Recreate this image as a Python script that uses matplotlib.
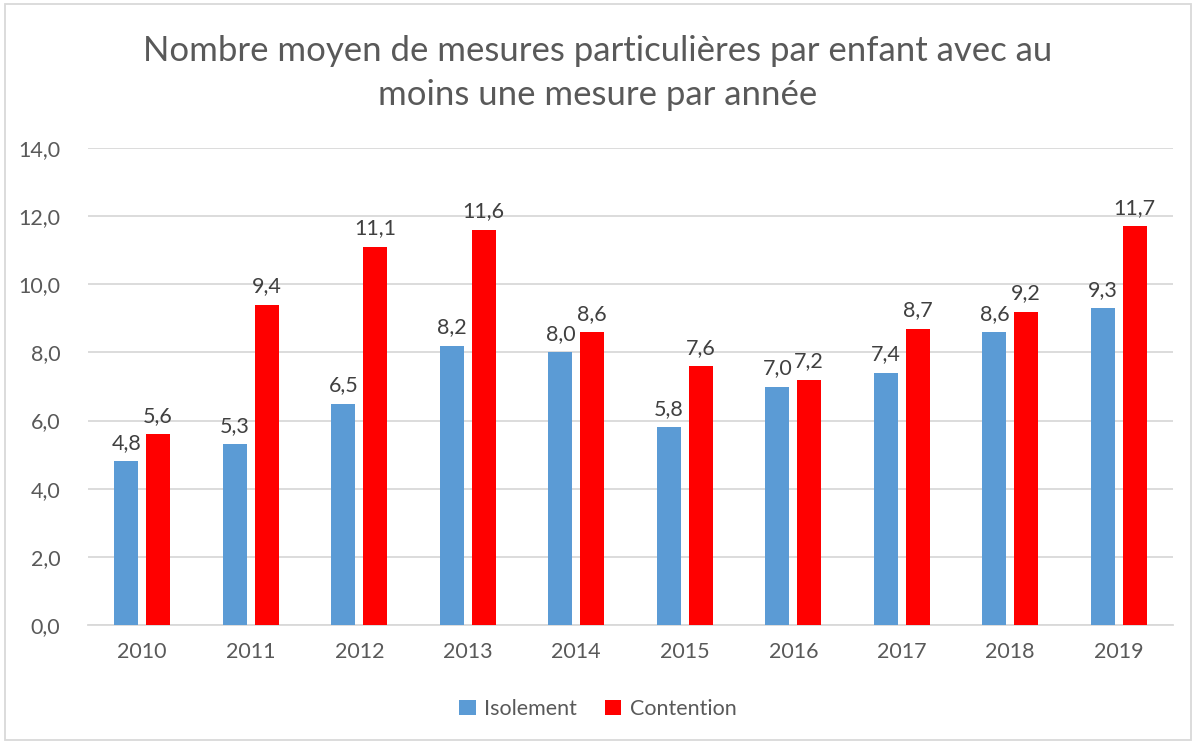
import matplotlib
matplotlib.use("Agg")
import matplotlib.pyplot as plt
from matplotlib.patches import Rectangle
import numpy as np

years = ["2010", "2011", "2012", "2013", "2014", "2015", "2016", "2017", "2018", "2019"]
isolement = [4.8, 5.3, 6.5, 8.2, 8.0, 5.8, 7.0, 7.4, 8.6, 9.3]
contention = [5.6, 9.4, 11.1, 11.6, 8.6, 7.6, 7.2, 8.7, 9.2, 11.7]

plt.rcParams["font.family"] = ["Lato", "DejaVu Sans"]
grey = "#595959"

fig = plt.figure(figsize=(11.96, 7.44), dpi=100)
ax = fig.add_axes([88 / 1196, 1 - 625 / 744, (1173 - 88) / 1196, (625 - 148) / 744])

x = np.arange(len(years))
w = 0.22
off = 0.146
b1 = ax.bar(x - off, isolement, w, color="#5b9bd5", label="Isolement", zorder=3)
b2 = ax.bar(x + off, contention, w, color="#ff0000", label="Contention", zorder=3)

def fmt(v):
    return f"{v:.1f}".replace(".", ",")

for bars, vals in ((b1, isolement), (b2, contention)):
    for r, v in zip(bars, vals):
        ax.annotate(fmt(v), (r.get_x() + r.get_width() / 2, v), xytext=(0, 6),
                    textcoords="offset points", ha="center", va="bottom",
                    fontsize=15.5, color="#404040")

ax.set_xlim(-0.5, 9.5)
ax.set_ylim(0, 14)
ax.set_yticks(np.arange(0, 14.1, 2))
ax.set_yticklabels([fmt(v) for v in np.arange(0, 14.1, 2)])
ax.set_xticks(x)
ax.set_xticklabels(years)
ax.tick_params(axis="both", length=0, labelsize=15.5, labelcolor=grey)
ax.tick_params(axis="x", pad=12)
ax.tick_params(axis="y", pad=20)
ax.grid(axis="y", color="#d9d9d9", linewidth=1.3, zorder=0)
for s in ("top", "right", "left"):
    ax.spines[s].set_visible(False)
ax.spines["bottom"].set_color("#d9d9d9")
ax.spines["bottom"].set_linewidth(1.3)

fig.text(0.5, 1 - 73 / 744, "Nombre moyen de mesures particulières par enfant avec au\nmoins une mesure par année",
         ha="center", va="center", fontsize=25, color=grey, linespacing=1.45)

fig.legend(handles=[b1, b2], loc="center", bbox_to_anchor=(0.5, 1 - 709 / 744), ncol=2,
           frameon=False, fontsize=15.5, labelcolor=grey, handlelength=0.75, handleheight=0.75,
           columnspacing=1.3, handletextpad=0.4)

fig.add_artist(Rectangle((5 / 1196, 4 / 744), 1186 / 1196, 736 / 744, transform=fig.transFigure,
                         fill=False, edgecolor="#d9d9d9", linewidth=1.3))

fig.savefig("out.png", dpi=100)
